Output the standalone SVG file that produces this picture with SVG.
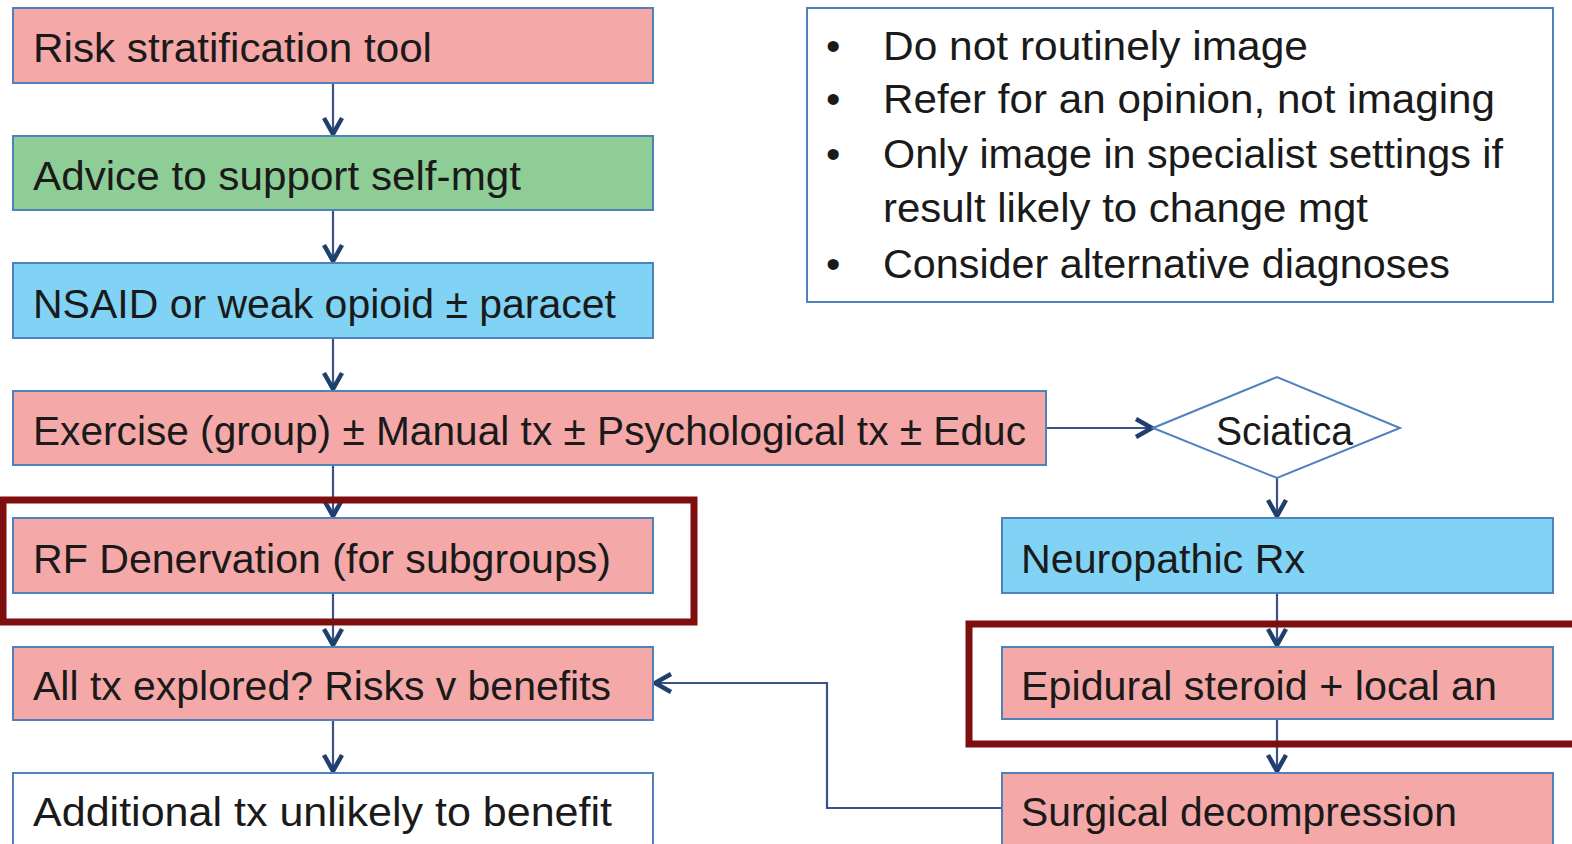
<svg xmlns="http://www.w3.org/2000/svg" width="1572" height="844" viewBox="0 0 1572 844">
<defs>
<style>
.box{stroke:#4F81BD;stroke-width:2}
.pink{fill:#F5A8A8}
.green{fill:#8FCD97}
.blue{fill:#80D3F5}
.white{fill:#FFFFFF}
.t{font-family:"Liberation Sans",Arial,sans-serif;font-size:41px;fill:#1A1A1A}
.c{fill:none;stroke:#3A5285;stroke-width:2.2}
.hl{fill:none;stroke:#7F0E0E;stroke-width:7}
</style>
<marker id="ah" viewBox="0 0 24 24" refX="21" refY="12" markerWidth="24" markerHeight="24" markerUnits="userSpaceOnUse" orient="auto">
<path d="M4,3 L20,12 L4,21" fill="none" stroke="#1F3F6E" stroke-width="4.5" stroke-linejoin="miter"/>
</marker>
</defs>
<rect width="1572" height="844" fill="#FFFFFF"/>

<g id="connectors">
<line class="c" x1="333" y1="83" x2="333" y2="135" marker-end="url(#ah)"/>
<line class="c" x1="333" y1="210" x2="333" y2="262" marker-end="url(#ah)"/>
<line class="c" x1="333" y1="338" x2="333" y2="390" marker-end="url(#ah)"/>
<line class="c" x1="333" y1="465" x2="333" y2="517" marker-end="url(#ah)"/>
<line class="c" x1="333" y1="593" x2="333" y2="646" marker-end="url(#ah)"/>
<line class="c" x1="333" y1="720" x2="333" y2="772" marker-end="url(#ah)"/>
<line class="c" x1="1046" y1="428" x2="1153" y2="428" marker-end="url(#ah)"/>
<line class="c" x1="1277" y1="478" x2="1277" y2="517" marker-end="url(#ah)"/>
<line class="c" x1="1277" y1="593" x2="1277" y2="646" marker-end="url(#ah)"/>
<line class="c" x1="1277" y1="719" x2="1277" y2="772" marker-end="url(#ah)"/>
<polyline class="c" points="1002,808 827,808 827,683 654,683" marker-end="url(#ah)"/>
</g>

<g id="risk">
<rect class="box pink" x="13" y="8" width="640" height="75"/>
<text class="t" x="33" y="62" textLength="399" lengthAdjust="spacingAndGlyphs">Risk stratification tool</text>
</g>
<g id="advice">
<rect class="box green" x="13" y="136" width="640" height="74"/>
<text class="t" x="33" y="190" textLength="488" lengthAdjust="spacingAndGlyphs">Advice to support self-mgt</text>
</g>
<g id="nsaid">
<rect class="box blue" x="13" y="263" width="640" height="75"/>
<text class="t" x="33" y="318" textLength="583" lengthAdjust="spacingAndGlyphs">NSAID or weak opioid ± paracet</text>
</g>
<g id="exercise">
<rect class="box pink" x="13" y="391" width="1033" height="74"/>
<text class="t" x="33" y="445" textLength="993" lengthAdjust="spacingAndGlyphs">Exercise (group) ± Manual tx ± Psychological tx ± Educ</text>
</g>
<g id="rf">
<rect class="box pink" x="13" y="518" width="640" height="75"/>
<text class="t" x="33" y="573" textLength="578" lengthAdjust="spacingAndGlyphs">RF Denervation (for subgroups)</text>
</g>
<g id="alltx">
<rect class="box pink" x="13" y="647" width="640" height="73"/>
<text class="t" x="33" y="700" textLength="578" lengthAdjust="spacingAndGlyphs">All tx explored? Risks v benefits</text>
</g>
<g id="additional">
<rect class="box white" x="13" y="773" width="640" height="80"/>
<text class="t" x="33" y="826" textLength="579" lengthAdjust="spacingAndGlyphs">Additional tx unlikely to benefit</text>
</g>

<g id="notes">
<rect class="box white" x="807" y="8" width="746" height="294"/>
<g class="t">
<text x="826" y="60">•</text>
<text x="883" y="60" textLength="425" lengthAdjust="spacingAndGlyphs">Do not routinely image</text>
<text x="826" y="113">•</text>
<text x="883" y="113" textLength="612" lengthAdjust="spacingAndGlyphs">Refer for an opinion, not imaging</text>
<text x="826" y="168">•</text>
<text x="883" y="168" textLength="620" lengthAdjust="spacingAndGlyphs">Only image in specialist settings if</text>
<text x="883" y="222" textLength="485" lengthAdjust="spacingAndGlyphs">result likely to change mgt</text>
<text x="826" y="278">•</text>
<text x="883" y="278" textLength="567" lengthAdjust="spacingAndGlyphs">Consider alternative diagnoses</text>
</g>
</g>

<g id="sciatica">
<polygon points="1153,428 1277,377 1400,428 1277,478" fill="#FFFFFF" stroke="#4F81BD" stroke-width="2"/>
<text class="t" x="1216" y="445" textLength="137" lengthAdjust="spacingAndGlyphs">Sciatica</text>
</g>
<g id="neuropathic">
<rect class="box blue" x="1002" y="518" width="551" height="75"/>
<text class="t" x="1021" y="573" textLength="284" lengthAdjust="spacingAndGlyphs">Neuropathic Rx</text>
</g>
<g id="epidural">
<rect class="box pink" x="1002" y="647" width="551" height="72"/>
<text class="t" x="1021" y="700" textLength="476" lengthAdjust="spacingAndGlyphs">Epidural steroid + local an</text>
</g>
<g id="surgical">
<rect class="box pink" x="1002" y="773" width="551" height="80"/>
<text class="t" x="1021" y="826" textLength="436" lengthAdjust="spacingAndGlyphs">Surgical decompression</text>
</g>

<g id="highlights">
<rect class="hl" x="3" y="500" width="691" height="122"/>
<rect class="hl" x="969" y="624" width="620" height="120"/>
</g>
</svg>
